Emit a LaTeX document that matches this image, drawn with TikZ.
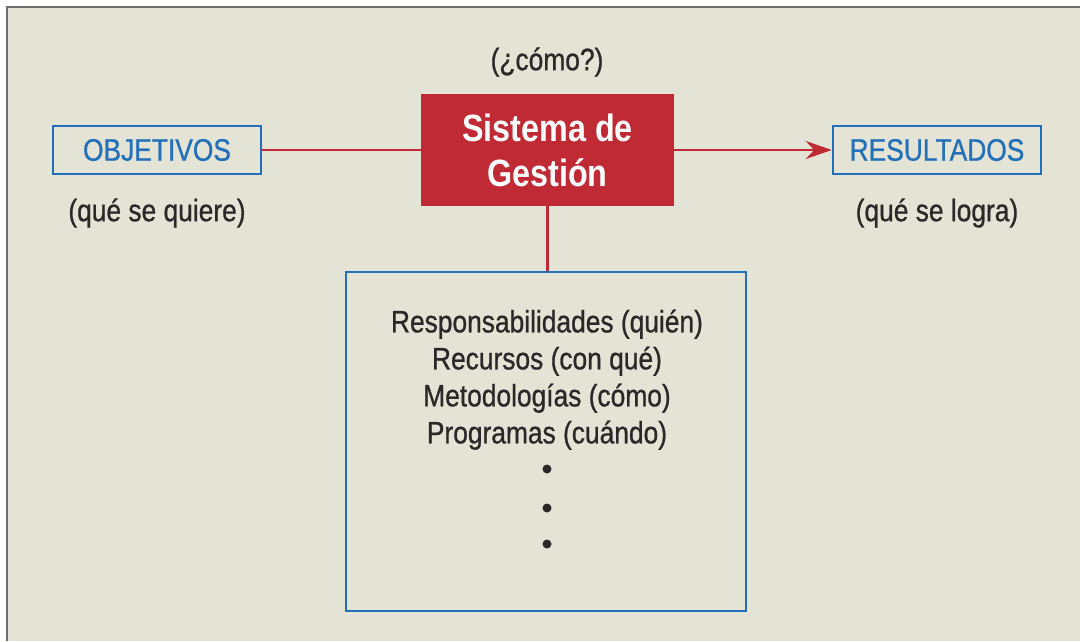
\documentclass[tikz,border=0pt]{standalone}
\usepackage{fontspec}
\setmainfont{Liberation Sans}[FakeStretch=0.85]
\newfontfamily\gruesa{Liberation Sans}[FakeStretch=0.85, FakeBold=0.8]
\usetikzlibrary{arrows.meta}

\definecolor{fondo}{HTML}{E4E4D6}
\definecolor{borde}{HTML}{6E6E6A}
\definecolor{azul}{HTML}{2470B8}
\definecolor{rojo}{HTML}{C02A34}
\definecolor{texto}{HTML}{2A2828}

\begin{document}
\begin{tikzpicture}[
        x=1pt, y=-1pt,
        caja/.style={draw=azul, line width=2.6pt, minimum width=208pt, minimum height=48pt, text=azul, font=\gruesa\fontsize{31}{37}\selectfont},
        nota/.style={text=texto, font=\gruesa\fontsize{31}{37}\selectfont},
        sistema/.style={fill=rojo, minimum width=253pt, minimum height=112pt, align=center, text=white, font=\bfseries\fontsize{38}{45}\selectfont},
        punto/.style={circle, fill=texto, inner sep=0pt, minimum size=9pt},
        linea/.style={draw=rojo, line width=2.4pt},
        flecha/.style={linea, -{Stealth[length=26pt,width=18pt]}}
    ]
        \useasboundingbox (0,0) rectangle (1080,641);
        \fill[fondo] (7,7) rectangle (1080,641);
        \draw[borde, line width=2pt] (7,641) -- (7,7) -- (1080,7);

        % Centro
        \node[nota] (como) at (547,62) {(¿cómo?)};
        \node[sistema] (sistema) at (547.5,150) {Sistema de\\Gestión};

        % Entrada y salida
        \node[caja] (objetivos) at (157,150) {OBJETIVOS};
        \node[nota] (quiere) at (157,213) {(qué se quiere)};
        \node[caja] (resultados) at (937,150) {RESULTADOS};
        \node[nota] (logra) at (937,213) {(qué se logra)};

        % Elementos del sistema
        \node[draw=azul, line width=2.6pt, minimum width=400pt, minimum height=339pt] (elementos) at (546,441.5) {};
        \node[nota, anchor=north, align=center] (lista) at (547,306) {Responsabilidades (quién)\\Recursos (con qué)\\Metodologías (cómo)\\Programas (cuándo)};
        \node[punto] (p1) at (547,469) {};
        \node[punto] (p2) at (547,508) {};
        \node[punto] (p3) at (547,544) {};

        \draw[linea] (objetivos) -- (sistema);
        \draw[flecha] (sistema) -- (resultados);
        \draw[linea] (sistema.south) -- (sistema.south |- elementos.north);
    \end{tikzpicture}
\end{document}
